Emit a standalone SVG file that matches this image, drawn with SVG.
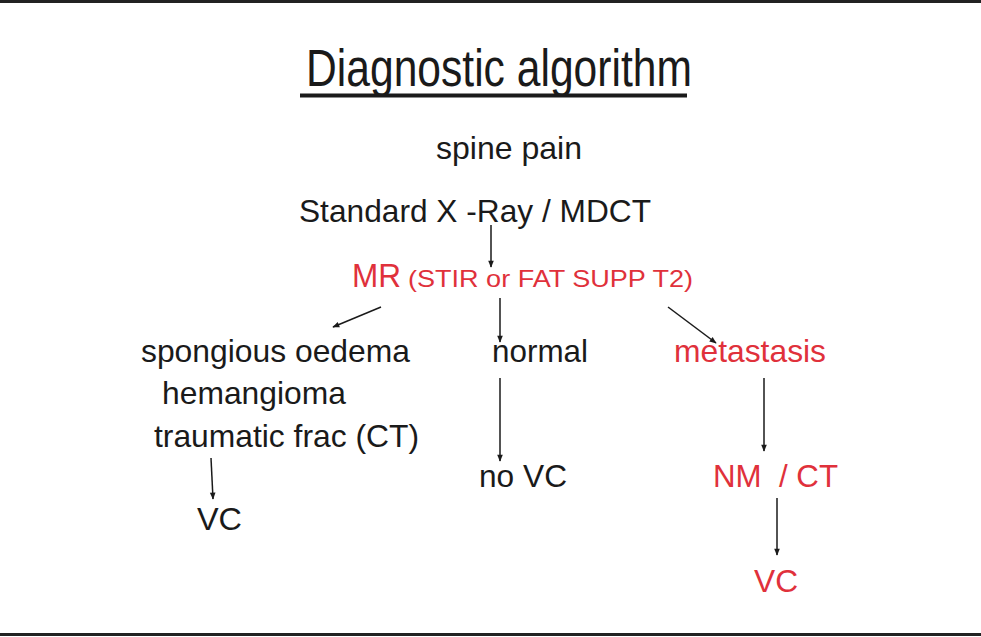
<svg xmlns="http://www.w3.org/2000/svg" width="981" height="637" viewBox="0 0 981 637">
<style>
text{font-family:"Liberation Sans",Arial,sans-serif;font-size:32px;fill:#1a1a1a}
.r{fill:#e0313b}
.c{stroke:#1a1a1a;stroke-width:1.5;fill:none;marker-end:url(#ah)}
</style>
<defs>
<marker id="ah" viewBox="0 0 10 10" refX="9" refY="5" markerWidth="8" markerHeight="7" markerUnits="userSpaceOnUse" orient="auto">
<path d="M0,1 L10,5 L0,9 z" fill="#1a1a1a"/>
</marker>
</defs>
<rect width="981" height="637" fill="#fff"/>
<line x1="0" y1="1.5" x2="981" y2="1.5" stroke="#222" stroke-width="3"/>
<line x1="0" y1="634.5" x2="981" y2="634.5" stroke="#222" stroke-width="3"/>
<g id="title">
<text x="306" y="86" textLength="386" lengthAdjust="spacingAndGlyphs" style="font-size:51px">Diagnostic algorithm</text>
<line x1="300" y1="95.5" x2="687" y2="95.5" stroke="#1a1a1a" stroke-width="4"/>
</g>
<g id="spine-pain"><text x="436" y="159" textLength="146" lengthAdjust="spacingAndGlyphs">spine pain</text></g>
<g id="xray"><text x="299" y="222" textLength="352" lengthAdjust="spacingAndGlyphs">Standard X -Ray / MDCT</text></g>
<g id="mr">
<text class="r" x="352" y="287" textLength="49" lengthAdjust="spacingAndGlyphs" style="font-size:34px">MR</text>
<text class="r" x="408" y="287" style="font-size:24px" textLength="285" lengthAdjust="spacingAndGlyphs">(STIR or FAT SUPP T2)</text>
</g>
<g id="spongious">
<text x="141" y="362" textLength="269" lengthAdjust="spacingAndGlyphs">spongious oedema</text>
<text x="162" y="404" textLength="184" lengthAdjust="spacingAndGlyphs">hemangioma</text>
<text x="154" y="447" textLength="265" lengthAdjust="spacingAndGlyphs">traumatic frac (CT)</text>
</g>
<g id="vc-left"><text x="197" y="530" textLength="45" lengthAdjust="spacingAndGlyphs">VC</text></g>
<g id="normal"><text x="492" y="362" textLength="96" lengthAdjust="spacingAndGlyphs">normal</text></g>
<g id="no-vc"><text x="479" y="487" textLength="88" lengthAdjust="spacingAndGlyphs">no VC</text></g>
<g id="metastasis"><text class="r" x="674" y="362" textLength="152" lengthAdjust="spacingAndGlyphs">metastasis</text></g>
<g id="nm-ct"><text class="r" x="713" y="487" textLength="125" lengthAdjust="spacingAndGlyphs" xml:space="preserve">NM  / CT</text></g>
<g id="vc-right"><text class="r" x="754" y="592" textLength="44" lengthAdjust="spacingAndGlyphs">VC</text></g>
<g id="connectors">
<line class="c" x1="491" y1="225" x2="491" y2="267"/>
<line class="c" x1="381" y1="307" x2="333" y2="327"/>
<line class="c" x1="500" y1="298" x2="500" y2="342"/>
<line class="c" x1="668" y1="307" x2="716" y2="343"/>
<line class="c" x1="500" y1="378" x2="500" y2="461"/>
<line class="c" x1="211" y1="458" x2="213" y2="499"/>
<line class="c" x1="764" y1="378" x2="764" y2="451"/>
<line class="c" x1="777" y1="498" x2="777" y2="555"/>
</g>
</svg>
